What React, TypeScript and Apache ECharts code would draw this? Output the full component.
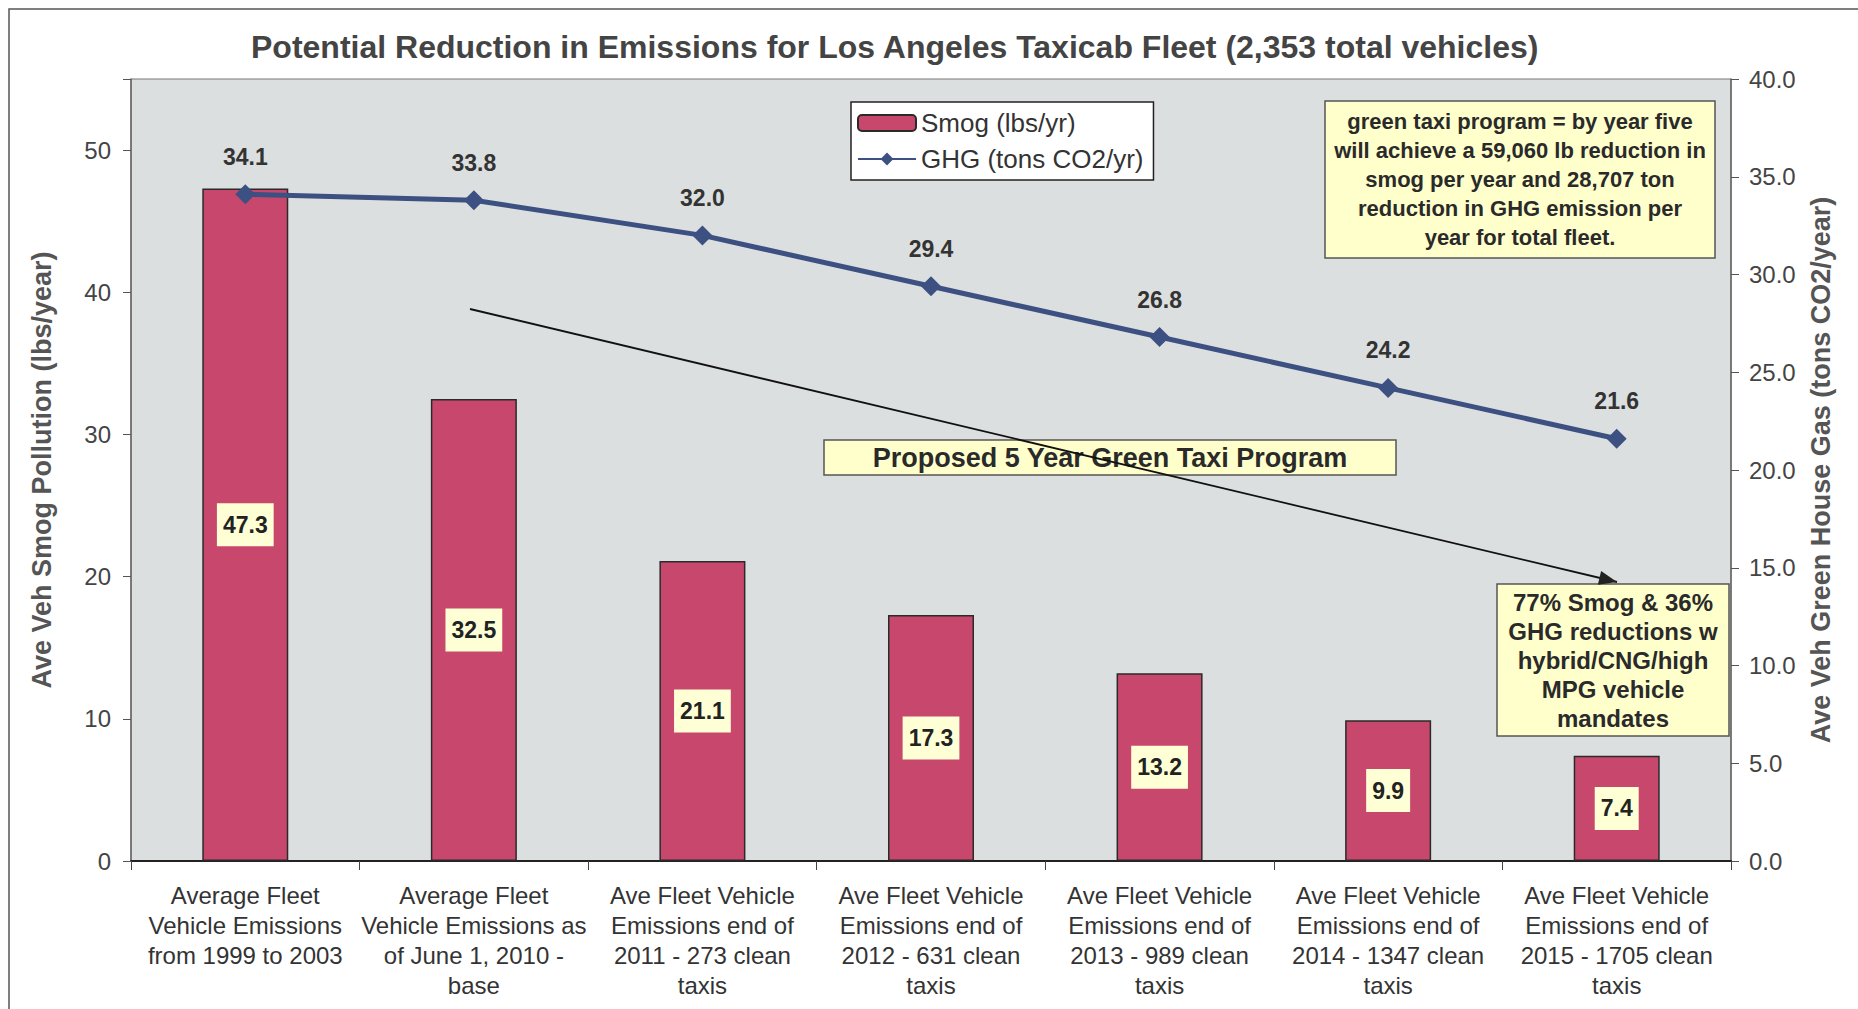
import React, { useEffect, useRef } from "react";
import * as echarts from "echarts";

const categories = [
  "Average Fleet\nVehicle Emissions\nfrom 1999 to 2003",
  "Average Fleet\nVehicle Emissions as\nof June 1, 2010 -\nbase",
  "Ave Fleet Vehicle\nEmissions end of\n2011 - 273 clean\ntaxis",
  "Ave Fleet Vehicle\nEmissions end of\n2012 - 631 clean\ntaxis",
  "Ave Fleet Vehicle\nEmissions end of\n2013 - 989 clean\ntaxis",
  "Ave Fleet Vehicle\nEmissions end of\n2014 - 1347 clean\ntaxis",
  "Ave Fleet Vehicle\nEmissions end of\n2015 - 1705 clean\ntaxis",
];
const smogValues = [47.3, 32.5, 21.1, 17.3, 13.2, 9.9, 7.4];
const ghgValues = [34.1, 33.8, 32.0, 29.4, 26.8, 24.2, 21.6];

const titleText =
  "Potential Reduction in Emissions for Los Angeles Taxicab Fleet (2,353 total vehicles)";
const leftAxisName = "Ave Veh Smog Pollution (lbs/year)";
const rightAxisName = "Ave Veh Green House Gas (tons CO2/year)";
const seriesNames = ["Smog (lbs/yr)", "GHG (tons CO2/yr)"];
const note1 =
  "green taxi program = by year five\nwill achieve a 59,060 lb reduction in\nsmog per year and 28,707 ton\nreduction in GHG emission per\nyear for total fleet.";
const note2 = "Proposed 5 Year Green Taxi Program";
const note3 =
  "77% Smog & 36%\nGHG reductions w\nhybrid/CNG/high\nMPG vehicle\nmandates";

const FONT = "'Liberation Sans', Arial, sans-serif";

function arrowHead(x1: number, y1: number, x2: number, y2: number, len: number, half: number) {
  const dx = x2 - x1;
  const dy = y2 - y1;
  const L = Math.sqrt(dx * dx + dy * dy);
  const ux = dx / L;
  const uy = dy / L;
  const bx = x2 - ux * len;
  const by = y2 - uy * len;
  return [
    [x2, y2],
    [bx - uy * half, by + ux * half],
    [bx + uy * half, by - ux * half],
  ];
}

function noteBox(x: number, y: number, w: number, h: number, text: string, size: number, lh: number) {
  return {
    type: "group",
    children: [
      {
        type: "rect",
        shape: { x, y, width: w, height: h },
        style: { fill: "#ffffcc", stroke: "#555", lineWidth: 1.5 },
      },
      {
        type: "text",
        x: x + w / 2,
        y: y + h / 2,
        style: {
          text,
          fill: "#2a2a2a",
          font: `bold ${size}px ${FONT}`,
          lineHeight: lh,
          align: "center",
          verticalAlign: "middle",
        },
      },
    ],
  };
}

export default function App() {
  const ref = useRef<HTMLDivElement>(null);
  useEffect(() => {
    if (!ref.current) return;
    const chart = echarts.init(ref.current, undefined, { renderer: "svg" });
    const a1 = [470, 309];
    const a2 = [1617, 582];
    chart.setOption({
      animation: false,
      backgroundColor: "#ffffff",
      textStyle: { fontFamily: FONT },
      title: {
        text: titleText,
        left: 251,
        top: 31,
        padding: 0,
        textStyle: { fontSize: 32, fontWeight: "bold", color: "#444", fontFamily: FONT },
      },
      legend: {
        orient: "vertical",
        left: 851,
        top: 102,
        backgroundColor: "#ffffff",
        borderColor: "#222",
        borderWidth: 1.5,
        borderRadius: 0,
        padding: [8, 10, 8, 6],
        itemGap: 10,
        itemWidth: 58,
        itemHeight: 16,
        textStyle: { fontSize: 26, color: "#333", fontFamily: FONT },
        data: seriesNames,
      },
      grid: {
        left: 131,
        right: 127,
        top: 79,
        bottom: 148,
        show: true,
        backgroundColor: "#dcdfdf",
        borderColor: "#777",
        borderWidth: 1,
      },
      xAxis: {
        type: "category",
        data: categories,
        axisLine: { lineStyle: { color: "#222", width: 2 } },
        axisTick: { show: true, length: 9, lineStyle: { color: "#444" } },
        axisLabel: {
          interval: 0,
          fontSize: 24,
          lineHeight: 30,
          color: "#333",
          margin: 19,
          fontFamily: FONT,
        },
      },
      yAxis: [
        {
          type: "value",
          min: 0,
          max: 55,
          interval: 10,
          position: "left",
          name: leftAxisName,
          nameLocation: "middle",
          nameRotate: 90,
          nameGap: 76,
          nameTextStyle: { fontSize: 27, fontWeight: "bold", color: "#555", fontFamily: FONT },
          axisLine: { show: true, lineStyle: { color: "#666", width: 1.5 } },
          axisTick: { show: true, length: 8, lineStyle: { color: "#555" } },
          splitLine: { show: false },
          axisLabel: {
            fontSize: 24,
            color: "#444",
            margin: 20,
            fontFamily: FONT,
            formatter: (v: number) => (v > 50 ? "" : String(v)),
          },
        },
        {
          type: "value",
          min: 0,
          max: 40,
          interval: 5,
          position: "right",
          name: rightAxisName,
          nameLocation: "middle",
          nameRotate: 90,
          nameGap: 76,
          nameTextStyle: { fontSize: 27, fontWeight: "bold", color: "#555", fontFamily: FONT },
          axisLine: { show: true, lineStyle: { color: "#666", width: 1.5 } },
          axisTick: { show: true, length: 8, lineStyle: { color: "#555" } },
          splitLine: { show: false },
          axisLabel: {
            fontSize: 24,
            color: "#444",
            margin: 18,
            fontFamily: FONT,
            formatter: (v: number) => v.toFixed(1),
          },
        },
      ],
      series: [
        {
          name: seriesNames[0],
          type: "bar",
          yAxisIndex: 0,
          data: smogValues,
          barWidth: 86,
          itemStyle: { color: "#c8476d", borderColor: "#2a2a2a", borderWidth: 1.5 },
          label: {
            show: true,
            position: "inside",
            formatter: (p: any) => Number(p.value).toFixed(1),
            backgroundColor: "#ffffd6",
            padding: [11, 6, 9, 6],
            fontSize: 23,
            fontWeight: "bold",
            color: "#222",
            fontFamily: FONT,
          },
          z: 2,
        },
        {
          name: seriesNames[1],
          type: "line",
          yAxisIndex: 1,
          data: ghgValues,
          symbol: "diamond",
          symbolSize: 20,
          lineStyle: { color: "#3d5082", width: 5 },
          itemStyle: { color: "#3d5082" },
          label: {
            show: true,
            position: "top",
            distance: 16,
            formatter: (p: any) => Number(p.value).toFixed(1),
            fontSize: 23,
            fontWeight: "bold",
            color: "#333",
            fontFamily: FONT,
          },
          z: 5,
        },
      ],
      graphic: [
        {
          type: "polyline",
          shape: { points: [[9, 1009], [9, 9], [1858, 9]] },
          style: { stroke: "#555", lineWidth: 1.5, fill: null },
          z: 10,
        },
        {
          type: "line",
          shape: { x1: a1[0], y1: a1[1], x2: a2[0], y2: a2[1] },
          style: { stroke: "#111", lineWidth: 1.8 },
          z: 10,
        },
        {
          type: "polygon",
          shape: { points: arrowHead(a1[0], a1[1], a2[0], a2[1], 18, 7) },
          style: { fill: "#222" },
          z: 10,
        },
        { ...noteBox(1325, 101, 390, 157, note1, 22, 29), z: 11 },
        { ...noteBox(824, 440, 572, 35, note2, 27, 30), z: 11 },
        { ...noteBox(1497, 584, 232, 152, note3, 24, 29), z: 11 },
      ],
    });
    return () => chart.dispose();
  }, []);
  return (
    <div
      ref={ref}
      style={{ position: "fixed", left: 0, top: 0, width: 1858, height: 1009 }}
    />
  );
}
